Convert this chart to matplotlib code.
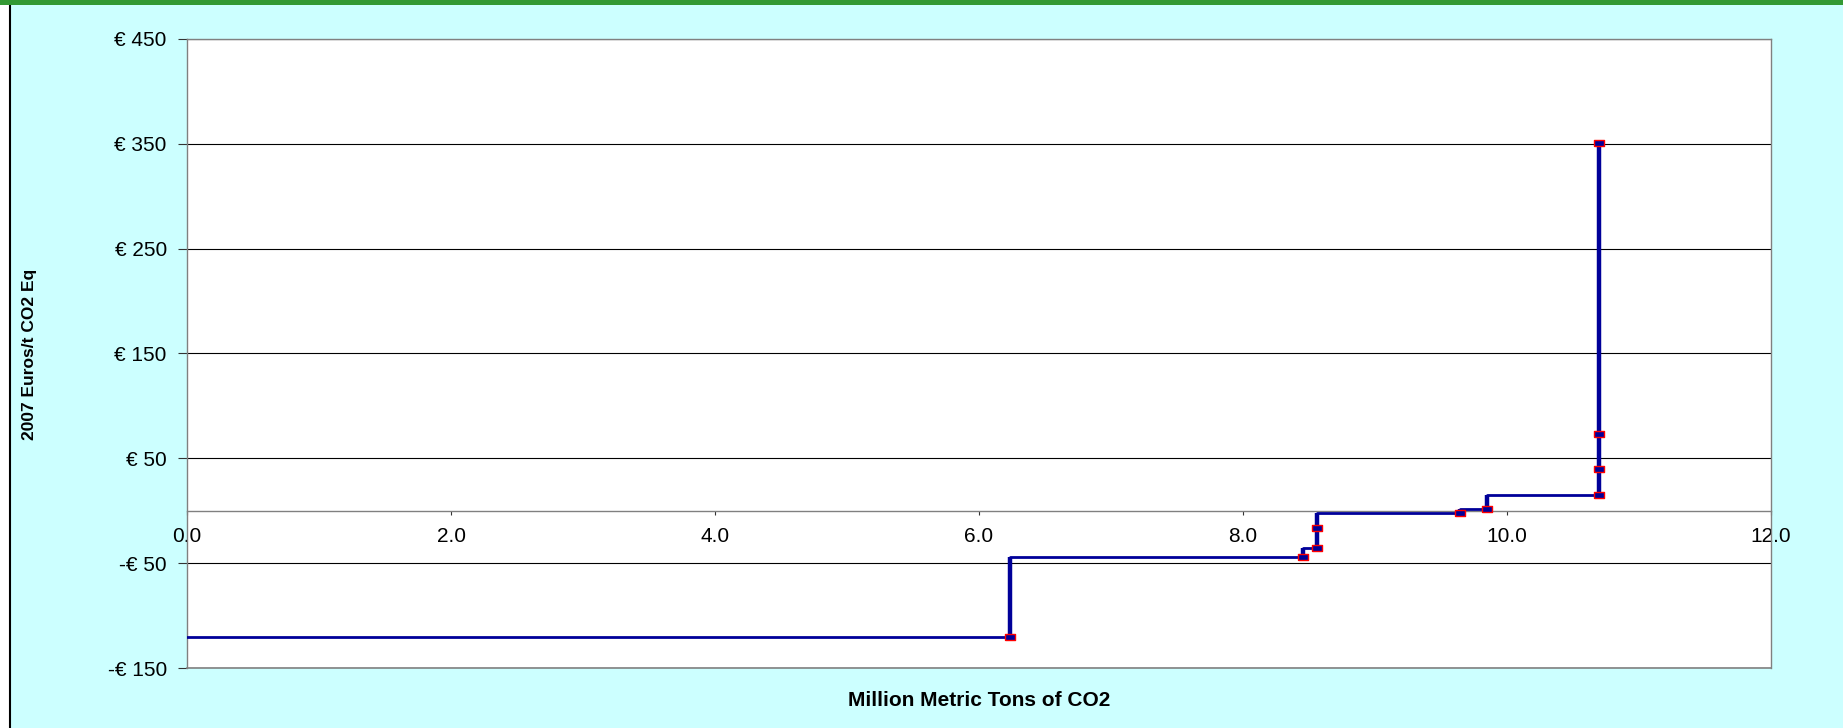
"""Marginal abatement cost curve as a stepped line."""

import matplotlib
matplotlib.use("Agg")
import matplotlib.pyplot as plt
from matplotlib.patches import Rectangle
from matplotlib.lines import Line2D
from matplotlib.ticker import FixedLocator

# Cumulative abatement (MtCO2) at the end of each measure, and its cost
cum_abatement = [6.235, 8.455, 8.563, 8.563, 9.644, 9.846, 10.697, 10.697, 10.697, 10.697]
cost_per_t = [-120, -44, -36, -16, -2.4, 2, 15, 40, 73, 351]

y_ticks = [-150, -50, 50, 150, 250, 350, 450]
y_tick_labels = ["-€ 150", "-€ 50", "€ 50", "€ 150", "€ 250", "€ 350", "€ 450"]
x_ticks = [0, 2, 4, 6, 8, 10, 12]

LINE = "#000099"
W, H = 1843, 728

plt.rcParams["font.family"] = ["Liberation Sans", "DejaVu Sans"]

fig = plt.figure(figsize=(W / 100, H / 100), dpi=100, facecolor="white")

# Panel background, its left edge and the green band on top
fig.patches.append(Rectangle((10 / W, 0), 1 - 10 / W, 1 - 5 / H, transform=fig.transFigure,
                             facecolor="#CCFFFF", edgecolor="none", zorder=-3))
fig.lines.append(Line2D([10 / W, 10 / W], [0, 1 - 5 / H], transform=fig.transFigure,
                        color="black", linewidth=1.5, zorder=-2))
fig.patches.append(Rectangle((0, 1 - 5 / H), 1, 5 / H, transform=fig.transFigure,
                             facecolor="#339933", edgecolor="none", zorder=-2))

left, right, top, bottom = 187, 1771, 39, 668
ax = fig.add_axes([left / W, 1 - bottom / H, (right - left) / W, (bottom - top) / H])
ax.set_facecolor("white")
ax.set_xlim(0, 12)
ax.set_ylim(-150, 450)

# Step line: each measure is a flat segment at its cost, risers between measures
start_x = [0] + cum_abatement[:-1]
ax.step(start_x, cost_per_t, where="post", color=LINE, linewidth=2, zorder=3)
ax.vlines(cum_abatement[:-1], cost_per_t[:-1], cost_per_t[1:], color=LINE, linewidth=3.2, zorder=3)
rect_marker = [(-1, -0.6), (1, -0.6), (1, 0.6), (-1, 0.6), (-1, -0.6)]
ax.plot(cum_abatement, cost_per_t, linestyle="none", marker=rect_marker, markersize=6.5,
        markerfacecolor=LINE, markeredgecolor="red", markeredgewidth=1, zorder=4)

# Axes styling
ax.yaxis.set_major_locator(FixedLocator(y_ticks))
ax.set_yticklabels(y_tick_labels)
ax.set_xticks(x_ticks)
ax.set_xticklabels([f"{v:.1f}" for v in x_ticks])
ax.grid(True, axis="y", color="black", linewidth=0.8, zorder=1)
ax.set_axisbelow(True)

for side in ("left", "right", "top"):
    ax.spines[side].set_color("#808080")
    ax.spines[side].set_linewidth(1)
ax.spines["bottom"].set_position(("data", 0))
ax.spines["bottom"].set_color("#808080")
ax.spines["bottom"].set_linewidth(1)
ax.axhline(-150, color="#808080", linewidth=1.2, zorder=2, clip_on=False)

ax.tick_params(axis="y", direction="out", length=6.5, width=0.8, color="#333333",
               labelsize=15, pad=8)
ax.tick_params(axis="x", direction="out", length=3, width=0.8, color="#333333",
               labelsize=15, pad=9)

fig.text((left + right) / 2 / W, 1 - 700 / H, "Million Metric Tons of CO2",
         ha="center", va="center", fontsize=15, fontweight="bold")
fig.text(30 / W, 1 - 354 / H, "2007 Euros/t CO2 Eq", rotation=90,
         ha="center", va="center", fontsize=12.5, fontweight="bold")

fig.savefig("out.png", dpi=100, facecolor=fig.get_facecolor())
